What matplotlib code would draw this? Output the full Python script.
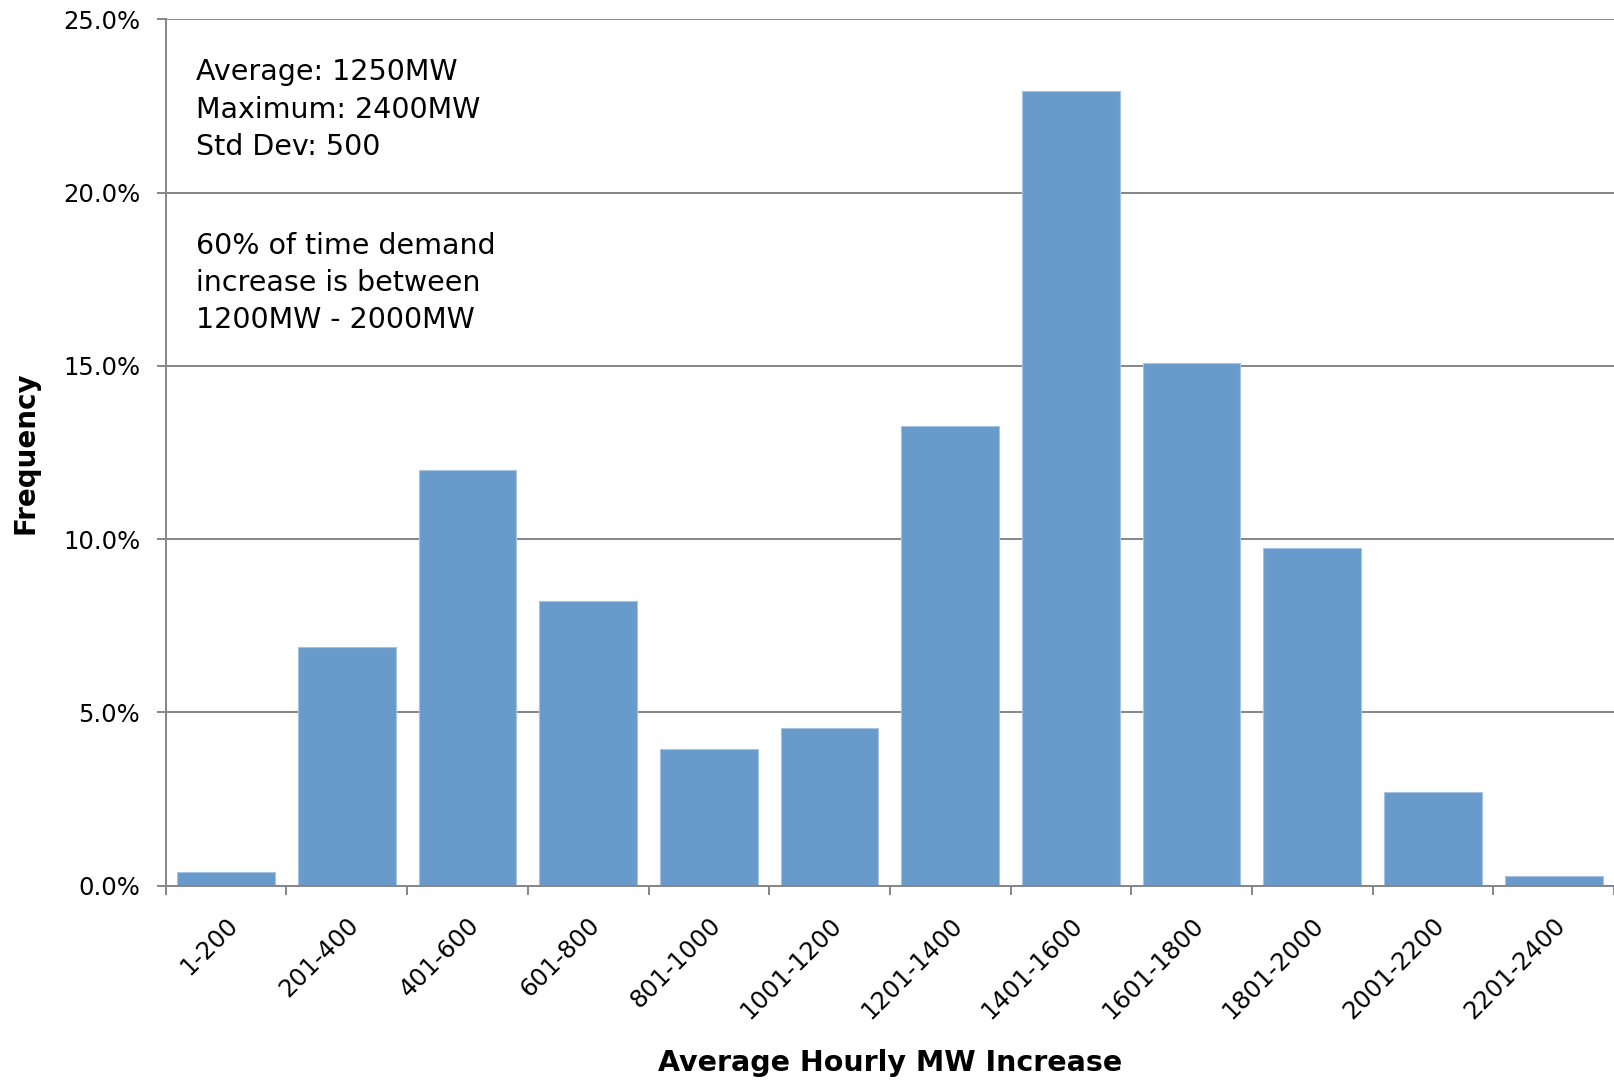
import matplotlib
matplotlib.use("Agg")
import matplotlib.pyplot as plt
from matplotlib.transforms import ScaledTranslation
import numpy as np

categories = ["1-200", "201-400", "401-600", "601-800", "801-1000", "1001-1200",
              "1201-1400", "1401-1600", "1601-1800", "1801-2000", "2001-2200", "2201-2400"]
frequency_pct = [0.39, 6.87, 11.98, 8.20, 3.95, 4.55, 13.26, 22.92, 15.07, 9.75, 2.71, 0.27]
y_ticks = [0.0, 5.0, 10.0, 15.0, 20.0, 25.0]

stats_text = "Average: 1250MW\nMaximum: 2400MW\nStd Dev: 500"
note_text = "60% of time demand\nincrease is between\n1200MW - 2000MW"

plt.rcParams["font.family"] = ["DejaVu Sans"]

fig = plt.figure(figsize=(16.14, 10.84), dpi=100)
ax = fig.add_axes([0.1027, 0.1831, 0.8973, 0.7991])

grid_gray = "#868686"
bar_color = "#689ACB"

x = np.arange(len(categories))
ax.bar(x, frequency_pct, width=0.81, color=bar_color, edgecolor="#A8C3E2",
       linewidth=0.8, zorder=3)

ax.set_xlim(-0.5, len(categories) - 0.5)
ax.set_ylim(0, 25)

ax.set_yticks(y_ticks)
ax.set_yticklabels([f"{v:.1f}%" for v in y_ticks], fontsize=17.5)
ax.yaxis.grid(True, color=grid_gray, linewidth=1.4, zorder=0)
ax.tick_params(axis="y", length=6.5, width=1.4, color=grid_gray, pad=12)

# category labels centred under bars, tick marks on category boundaries
ax.set_xticks(x)
ax.set_xticklabels(categories, fontsize=17.5, rotation=45, ha="right",
                   va="center", rotation_mode="anchor")
ax.tick_params(axis="x", which="major", length=0, pad=26)
ax.set_xticks(np.arange(-0.5, len(categories), 1.0), minor=True)
ax.tick_params(axis="x", which="minor", length=6.5, width=1.4, color=grid_gray)
shift = ScaledTranslation(0.08, 0, fig.dpi_scale_trans)
for lbl in ax.get_xticklabels():
    lbl.set_transform(lbl.get_transform() + shift)

for side in ("top", "right"):
    ax.spines[side].set_visible(False)
for side in ("left", "bottom"):
    ax.spines[side].set_color(grid_gray)
    ax.spines[side].set_linewidth(1.4)
ax.spines["bottom"].set_zorder(4)

ax.set_xlabel("Average Hourly MW Increase", fontsize=20.5, fontweight="bold", va="center")
ax.xaxis.set_label_coords(0.5, -0.2053)
ax.set_ylabel("Frequency", fontsize=20, fontweight="bold", va="center")
ax.yaxis.set_label_coords(-0.0967, 0.5)

ax.text(0.021, 0.955, stats_text, transform=ax.transAxes, fontsize=20.5,
        va="top", ha="left", linespacing=1.42)
ax.text(0.021, 0.755, note_text, transform=ax.transAxes, fontsize=20.5,
        va="top", ha="left", linespacing=1.42)

fig.savefig("out.png", dpi=100)
